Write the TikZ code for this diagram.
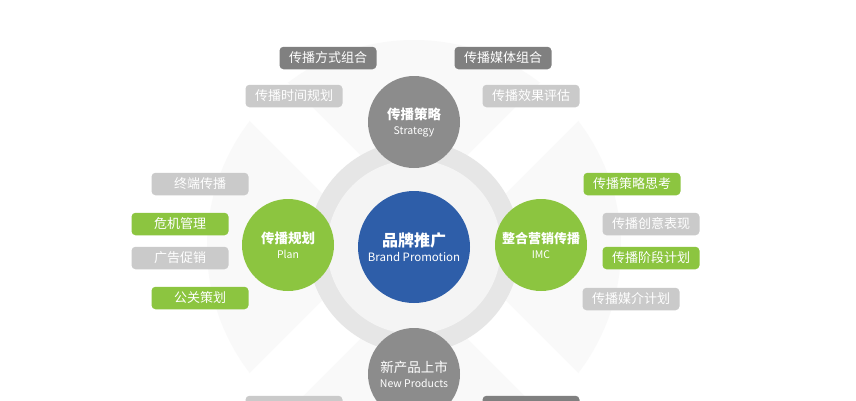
\documentclass[tikz,border=0pt]{standalone}
\usepackage{fontspec}
\newfontfamily\cjk{Noto Sans CJK SC}
\usetikzlibrary{calc,positioning}
\definecolor{ivgreen}{HTML}{8CC540}
\definecolor{ivblue}{HTML}{2E5EA9}
\definecolor{ivdark}{HTML}{808080}
\definecolor{ivcircle}{HTML}{8C8C8C}
\definecolor{ivlight}{HTML}{CACACA}
\definecolor{ivring}{HTML}{E6E6E6}
\definecolor{ivinner}{HTML}{F4F4F4}
\definecolor{ivback}{HTML}{F9F9F9}
\newcommand\hubtitle{\cjk\fontsize{13.5}{15}\selectfont\bfseries}
\newcommand\hubsub{\cjk\fontsize{10.5}{12}\selectfont}
\tikzset{
  tag/.style={rounded corners=4pt, minimum width=97pt, minimum height=22.5pt,
    inner sep=0pt, text=white, font=\cjk\fontsize{13}{15}\selectfont},
  taggreen/.style={tag, fill=ivgreen},
  taglight/.style={tag, fill=ivlight},
  tagdark/.style={tag, fill=ivdark},
  hub/.style={circle, minimum size=92pt, inner sep=0pt, text=white, align=center}
}
\begin{document}
\begin{tikzpicture}[x=1pt,y=-1pt]
		\clip (0,0) rectangle (856,400);
		\fill[white] (0,0) rectangle (856,400);
		\coordinate (o) at (414,247);
		% background sectors
		\fill[ivback] (o) circle[radius=207];
		\foreach \a in {45,135}{
			\fill[white, rotate around={\a:(o)}] ($(o)+(-215,-27)$) rectangle ($(o)+(215,27)$);
		}
		\fill[ivring] (o) circle[radius=106];
		\fill[ivinner] (o) circle[radius=87];
		% hubs
		\node[hub, minimum size=112pt, fill=ivblue] (brand) at (o)
			{{\cjk\fontsize{16}{18}\selectfont\bfseries 品牌推广}\\[3pt]{\cjk\fontsize{11.5}{13}\selectfont Brand Promotion}};
		\node[hub, fill=ivcircle] (strategy) at (414,122)
			{{\hubtitle 传播策略}\\[3pt]{\hubsub Strategy}};
		\node[hub, fill=ivgreen] (plan) at (288,245)
			{{\hubtitle 传播规划}\\[3pt]{\hubsub Plan}};
		\node[hub, fill=ivgreen] (imc) at (541,245)
			{{\hubtitle\fontsize{13}{15}\selectfont 整合营销传播}\\[3pt]{\hubsub IMC}};
		\node[hub, fill=ivcircle] (products) at (414,374)
			{{\cjk\fontsize{13.5}{15}\selectfont 新产品上市}\\[3pt]{\hubsub New Products}};
		% tags round the strategy
		\node[tagdark] (mode) at (328,58) {传播方式组合};
		\node[tagdark] (media) at (503,58) {传播媒体组合};
		\node[taglight] (time) at (294,96) {传播时间规划};
		\node[taglight] (effect) at (531,96) {传播效果评估};
		% tags round the plan
		\node[taglight] (terminal) at (200,184) {终端传播};
		\node[taggreen] (crisis) at (180,224) {危机管理};
		\node[taglight] (advert) at (180,258) {广告促销};
		\node[taggreen] (pr) at (200,298) {公关策划};
		% tags round the imc
		\node[taggreen] (think) at (632,184) {传播策略思考};
		\node[taglight] (creative) at (651,224) {传播创意表现};
		\node[taggreen] (stage) at (651,258) {传播阶段计划};
		\node[taglight] (mediaplan) at (631,299) {传播媒介计划};
		% tags below the products, cut off by the frame
		\node[taglight] (lowleft) at (294,407) {};
		\node[tagdark] (lowright) at (531,407) {};
	\end{tikzpicture}
\end{document}
